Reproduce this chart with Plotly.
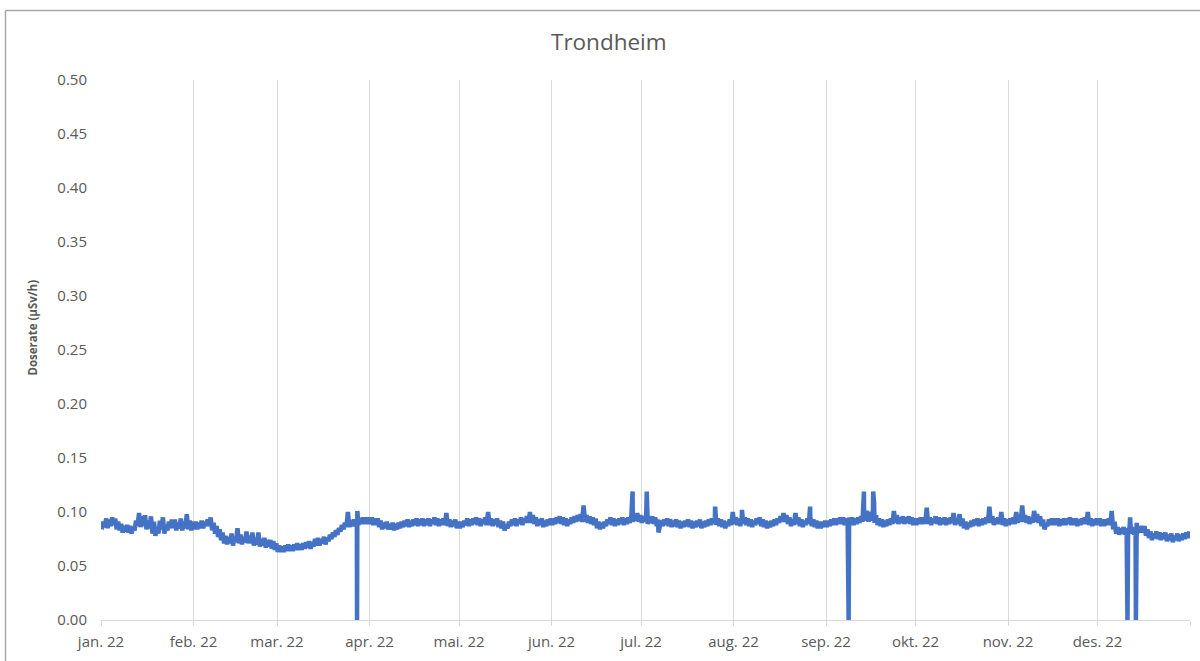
import pandas as pd
import plotly.graph_objects as go

# ---------------- data ----------------
month_starts = ["2022-01-01", "2022-02-01", "2022-03-01", "2022-04-01", "2022-05-01", "2022-06-01",
                "2022-07-01", "2022-08-01", "2022-09-01", "2022-10-01", "2022-11-01", "2022-12-01",
                "2023-01-01"]
month_labels = ["jan. 22", "feb. 22", "mar. 22", "apr. 22", "mai. 22", "jun. 22",
                "jul. 22", "aug. 22", "sep. 22", "okt. 22", "nov. 22", "des. 22", ""]

# daily low / high readings (µSv/h), read from the lower and upper edge of the trace
jan_lo = [0.084, 0.086, 0.085, 0.087, 0.088, 0.084, 0.083, 0.081, 0.082, 0.081, 0.080, 0.083, 0.087, 0.086,
          0.087, 0.084, 0.085, 0.080, 0.078, 0.080, 0.084, 0.080, 0.083, 0.085, 0.085, 0.083, 0.085, 0.083,
          0.085, 0.084, 0.083]
jan_hi = [0.091, 0.094, 0.093, 0.095, 0.094, 0.091, 0.089, 0.087, 0.088, 0.087, 0.086, 0.092, 0.099, 0.096,
          0.097, 0.092, 0.096, 0.091, 0.086, 0.092, 0.095, 0.088, 0.091, 0.093, 0.093, 0.090, 0.094, 0.091,
          0.098, 0.092, 0.091]
feb_lo = [0.084, 0.084, 0.085, 0.085, 0.087, 0.087, 0.083, 0.080, 0.077, 0.074, 0.071, 0.070, 0.071, 0.069,
          0.072, 0.071, 0.070, 0.072, 0.071, 0.071, 0.069, 0.070, 0.068, 0.069, 0.067, 0.068, 0.066, 0.065]
feb_hi = [0.091, 0.090, 0.092, 0.091, 0.093, 0.095, 0.090, 0.087, 0.084, 0.081, 0.078, 0.077, 0.080, 0.076,
          0.085, 0.079, 0.077, 0.082, 0.078, 0.081, 0.076, 0.081, 0.075, 0.076, 0.074, 0.074, 0.073, 0.071]
mar_lo = [0.063, 0.063, 0.063, 0.064, 0.064, 0.064, 0.065, 0.065, 0.065, 0.066, 0.067, 0.066, 0.068, 0.069,
          0.069, 0.071, 0.070, 0.073, 0.075, 0.077, 0.079, 0.082, 0.084, 0.086, 0.086, 0.087, 0.087, 0.088,
          0.089, 0.089, 0.089]
mar_hi = [0.069, 0.068, 0.069, 0.070, 0.069, 0.070, 0.071, 0.070, 0.071, 0.072, 0.073, 0.072, 0.075, 0.076,
          0.075, 0.077, 0.076, 0.079, 0.081, 0.083, 0.085, 0.088, 0.090, 0.100, 0.092, 0.093, 0.092, 0.094,
          0.095, 0.095, 0.095]
apr_lo = [0.089, 0.088, 0.088, 0.086, 0.084, 0.085, 0.084, 0.084, 0.083, 0.084, 0.085, 0.086, 0.087, 0.086,
          0.087, 0.088, 0.087, 0.088, 0.087, 0.088, 0.087, 0.089, 0.088, 0.087, 0.088, 0.088, 0.087, 0.086,
          0.087, 0.085]
apr_hi = [0.095, 0.094, 0.094, 0.092, 0.090, 0.091, 0.089, 0.090, 0.089, 0.090, 0.091, 0.092, 0.093, 0.092,
          0.093, 0.094, 0.093, 0.094, 0.093, 0.094, 0.093, 0.095, 0.094, 0.093, 0.094, 0.099, 0.093, 0.092,
          0.093, 0.091]
mai_lo = [0.085, 0.086, 0.088, 0.087, 0.088, 0.089, 0.088, 0.087, 0.089, 0.088, 0.088, 0.087, 0.088, 0.086,
          0.085, 0.083, 0.085, 0.087, 0.088, 0.087, 0.089, 0.088, 0.090, 0.090, 0.090, 0.089, 0.087, 0.088,
          0.086, 0.087, 0.088]
mai_hi = [0.091, 0.092, 0.094, 0.093, 0.094, 0.095, 0.094, 0.093, 0.095, 0.100, 0.094, 0.093, 0.094, 0.092,
          0.091, 0.088, 0.091, 0.093, 0.094, 0.093, 0.095, 0.094, 0.096, 0.100, 0.097, 0.095, 0.093, 0.094,
          0.092, 0.093, 0.094]
jun_lo = [0.088, 0.089, 0.090, 0.089, 0.088, 0.087, 0.089, 0.090, 0.091, 0.092, 0.091, 0.091, 0.090, 0.089,
          0.088, 0.085, 0.084, 0.085, 0.087, 0.089, 0.088, 0.087, 0.088, 0.089, 0.088, 0.089, 0.090, 0.091,
          0.092, 0.091]
jun_hi = [0.094, 0.095, 0.096, 0.095, 0.094, 0.093, 0.095, 0.096, 0.097, 0.098, 0.106, 0.097, 0.096, 0.095,
          0.094, 0.091, 0.090, 0.091, 0.093, 0.095, 0.094, 0.093, 0.094, 0.095, 0.094, 0.095, 0.096, 0.097,
          0.099, 0.097]
jul_lo = [0.090, 0.091, 0.089, 0.090, 0.089, 0.087, 0.086, 0.087, 0.088, 0.087, 0.086, 0.087, 0.086, 0.085,
          0.086, 0.087, 0.086, 0.085, 0.086, 0.087, 0.085, 0.086, 0.087, 0.088, 0.089, 0.088, 0.087, 0.086,
          0.085, 0.087, 0.088]
jul_hi = [0.096, 0.098, 0.095, 0.096, 0.095, 0.093, 0.092, 0.093, 0.094, 0.093, 0.092, 0.093, 0.092, 0.091,
          0.092, 0.093, 0.092, 0.091, 0.092, 0.093, 0.091, 0.092, 0.093, 0.094, 0.095, 0.094, 0.093, 0.092,
          0.091, 0.093, 0.100]
aug_lo = [0.089, 0.088, 0.087, 0.089, 0.088, 0.087, 0.086, 0.088, 0.089, 0.087, 0.086, 0.085, 0.086, 0.087,
          0.088, 0.090, 0.091, 0.091, 0.089, 0.087, 0.088, 0.089, 0.087, 0.086, 0.088, 0.089, 0.087, 0.086,
          0.085, 0.085, 0.086]
aug_hi = [0.095, 0.094, 0.093, 0.095, 0.094, 0.093, 0.092, 0.094, 0.095, 0.093, 0.092, 0.091, 0.092, 0.093,
          0.094, 0.096, 0.099, 0.097, 0.095, 0.093, 0.099, 0.095, 0.093, 0.092, 0.094, 0.095, 0.093, 0.092,
          0.091, 0.091, 0.092]
sep_lo = [0.086, 0.087, 0.088, 0.088, 0.089, 0.089, 0.088, 0.089, 0.089, 0.088, 0.089, 0.090, 0.091, 0.092,
          0.091, 0.092, 0.090, 0.088, 0.087, 0.086, 0.087, 0.088, 0.089, 0.090, 0.089, 0.090, 0.089, 0.090,
          0.089, 0.088]
sep_hi = [0.092, 0.093, 0.094, 0.094, 0.095, 0.095, 0.094, 0.095, 0.095, 0.094, 0.095, 0.096, 0.100, 0.101,
          0.100, 0.102, 0.097, 0.094, 0.093, 0.092, 0.093, 0.094, 0.101, 0.097, 0.095, 0.096, 0.095, 0.096,
          0.095, 0.094]
okt_lo = [0.088, 0.089, 0.089, 0.089, 0.089, 0.088, 0.090, 0.089, 0.088, 0.089, 0.088, 0.089, 0.090, 0.088,
          0.089, 0.087, 0.085, 0.084, 0.086, 0.087, 0.088, 0.087, 0.088, 0.089, 0.090, 0.090, 0.088, 0.089,
          0.089, 0.088, 0.087]
okt_hi = [0.094, 0.095, 0.095, 0.104, 0.095, 0.094, 0.096, 0.095, 0.094, 0.095, 0.094, 0.095, 0.099, 0.094,
          0.098, 0.094, 0.091, 0.090, 0.092, 0.093, 0.094, 0.093, 0.094, 0.095, 0.105, 0.096, 0.094, 0.095,
          0.100, 0.094, 0.093]
nov_lo = [0.088, 0.089, 0.089, 0.090, 0.091, 0.091, 0.090, 0.089, 0.090, 0.091, 0.090, 0.087, 0.084, 0.087,
          0.088, 0.088, 0.088, 0.087, 0.088, 0.088, 0.089, 0.088, 0.088, 0.087, 0.088, 0.089, 0.089, 0.088,
          0.087, 0.088]
nov_hi = [0.094, 0.095, 0.100, 0.096, 0.106, 0.097, 0.096, 0.095, 0.101, 0.098, 0.096, 0.093, 0.089, 0.093,
          0.094, 0.094, 0.094, 0.093, 0.094, 0.094, 0.095, 0.094, 0.094, 0.093, 0.094, 0.095, 0.100, 0.094,
          0.093, 0.094]
des_lo = [0.088, 0.087, 0.087, 0.088, 0.088, 0.084, 0.080, 0.079, 0.080, 0.079, 0.080, 0.080, 0.079, 0.080,
          0.081, 0.081, 0.078, 0.076, 0.074, 0.076, 0.075, 0.074, 0.075, 0.073, 0.074, 0.072, 0.074, 0.073,
          0.074, 0.075, 0.076]
des_hi = [0.094, 0.093, 0.093, 0.094, 0.101, 0.091, 0.086, 0.085, 0.086, 0.085, 0.086, 0.086, 0.085, 0.086,
          0.087, 0.087, 0.084, 0.082, 0.080, 0.082, 0.081, 0.080, 0.081, 0.079, 0.080, 0.078, 0.080, 0.079,
          0.080, 0.081, 0.082]

# short-lived events (spikes and data dropouts)
event_times = ["2022-03-27 19:30", "2022-03-27 22:00", "2022-06-27 22:00", "2022-06-28 04:00",
               "2022-07-02 22:00", "2022-07-06 20:00", "2022-07-25 20:00", "2022-08-03 20:00",
               "2022-08-26 16:00", "2022-09-08 14:00", "2022-09-13 17:00", "2022-09-16 19:30",
               "2022-09-17 03:00", "2022-12-11 01:00", "2022-12-11 22:00", "2022-12-13 21:00",
               "2022-12-14 03:00"]
event_values = [0.0, 0.101, 0.108, 0.119,
                0.119, 0.081, 0.105, 0.102,
                0.105, 0.0, 0.119, 0.119,
                0.108, 0.0, 0.095, 0.0,
                0.090]

# ---------------- assemble ----------------
daily_lo = jan_lo + feb_lo + mar_lo + apr_lo + mai_lo + jun_lo + jul_lo + aug_lo + sep_lo + okt_lo + nov_lo + des_lo
daily_hi = jan_hi + feb_hi + mar_hi + apr_hi + mai_hi + jun_hi + jul_hi + aug_hi + sep_hi + okt_hi + nov_hi + des_hi
lo_times = pd.date_range("2022-01-01 06:00", periods=len(daily_lo), freq="D")
hi_times = pd.date_range("2022-01-01 18:00", periods=len(daily_hi), freq="D")
df = pd.concat([
    pd.DataFrame({"t": lo_times, "v": daily_lo}),
    pd.DataFrame({"t": hi_times, "v": daily_hi}),
    pd.DataFrame({"t": pd.to_datetime(event_times), "v": event_values}),
]).sort_values("t", kind="stable")

fig = go.Figure()
fig.add_trace(go.Scatter(x=df["t"], y=df["v"], mode="lines",
                         line=dict(color="#4472C4", width=4.5), hoverinfo="x+y",
                         showlegend=False))

grey = "#595959"
fig.update_layout(
    width=1200, height=661,
    margin=dict(l=101, r=10, t=80, b=38),
    paper_bgcolor="white", plot_bgcolor="white",
    font=dict(family="Open Sans", color=grey),
    xaxis=dict(type="date", range=["2022-01-01", "2023-01-01"],
               tickmode="array", tickvals=month_starts, ticktext=month_labels,
               showgrid=True, gridcolor="#d9d9d9", gridwidth=1.4,
               showline=True, linecolor="#d9d9d9", linewidth=1.4,
               ticks="outside", ticklen=5, tickcolor="#d9d9d9", tickwidth=1.4,
               ticklabelstandoff=3,
               tickfont=dict(size=15, color=grey, family="Open Sans"),
               zeroline=False),
    yaxis=dict(range=[0, 0.5], dtick=0.05, tick0=0, tickformat=".2f",
               showgrid=False, zeroline=False, showline=False, ticks="",
               ticklabelstandoff=13,
               tickfont=dict(size=15, color=grey, family="Open Sans")),
    annotations=[
        dict(text="Trondheim", xref="paper", yref="paper", x=(609 - 101) / 1089, y=(623 - 41) / 543,
             xanchor="center", yanchor="middle", showarrow=False,
             font=dict(size=22.5, color=grey, family="Open Sans")),
        dict(text="<b>Doserate (µSv/h)</b>", xref="paper", yref="paper",
             x=(33 - 101) / 1089, y=(623 - 329) / 543, textangle=-90,
             xanchor="center", yanchor="middle", showarrow=False,
             font=dict(size=11.5, color=grey, family="Open Sans")),
    ],
    shapes=[
        dict(type="line", xref="paper", yref="paper", x0=(5.5 - 101) / 1089, x1=1.2,
             y0=(623 - 10) / 543, y1=(623 - 10) / 543, line=dict(color="#a6a6a6", width=1.5)),
        dict(type="line", xref="paper", yref="paper", x0=(5.5 - 101) / 1089, x1=(5.5 - 101) / 1089,
             y0=(623 - 10) / 543, y1=-0.2, line=dict(color="#a6a6a6", width=1.5)),
    ],
)

fig.write_html("out.html", config={"displayModeBar": False},
               post_script="document.body.style.margin='0';")
